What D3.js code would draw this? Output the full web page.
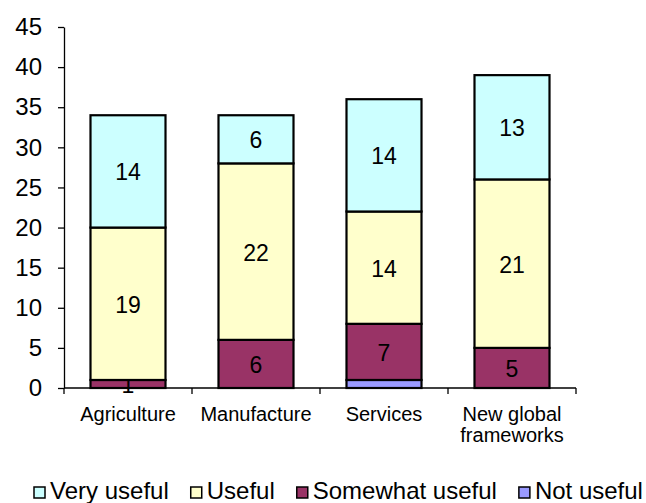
<!DOCTYPE html>
<html>
<head>
<meta charset="utf-8">
<script src="https://cdn.jsdelivr.net/npm/d3@7"></script>
<style>
  body { margin: 0; background: #fff; }
  text { font-family: "Liberation Sans", Arial, sans-serif; fill: #000; }
</style>
</head>
<body>
<div id="chart"></div>
<script>
// chart values
var categories = ["Agriculture", "Manufacture", "Services", "New global frameworks"];
var notUseful = [0, 0, 1, 0];
var somewhatUseful = [1, 6, 7, 5];
var useful = [19, 22, 14, 21];
var veryUseful = [14, 6, 14, 13];
var yTicks = [0, 5, 10, 15, 20, 25, 30, 35, 40, 45];

var seriesNames = ["Not useful", "Somewhat useful", "Useful", "Very useful"];
var seriesColors = ["#9999ff", "#993366", "#ffffcc", "#ccffff"];
var legendOrder = [3, 2, 1, 0];

var svgWidth = 646;
var svgHeight = 503;

// build rows for d3.stack
var rows = categories.map(function(c, i) {
  return {
    cat: c,
    "Not useful": notUseful[i],
    "Somewhat useful": somewhatUseful[i],
    "Useful": useful[i],
    "Very useful": veryUseful[i]
  };
});
var stacked = d3.stack().keys(seriesNames)(rows);

var svg = d3.select("#chart")
  .append("svg")
    .attr("width", svgWidth)
    .attr("height", svgHeight);

var x = d3.scaleBand()
  .domain(categories)
  .range([64, 576])
  .paddingInner(0.414)
  .paddingOuter(0.207);

var y = d3.scaleLinear()
  .domain([0, 45])
  .range([388, 27]);

// y axis
var yAxis = svg.append("g")
  .attr("transform", "translate(64,0)")
  .call(d3.axisLeft(y).tickValues(yTicks).tickSize(6).tickSizeOuter(0).tickPadding(16));
yAxis.select(".domain").attr("stroke", "#000").attr("stroke-width", 1.3);
yAxis.selectAll(".tick line").attr("stroke", "#000").attr("stroke-width", 1.3);
yAxis.selectAll(".tick text")
  .style("font-family", "'Liberation Sans', Arial, sans-serif")
  .style("font-size", "24px")
  .attr("fill", "#000");

// x axis: line plus ticks at category boundaries
var xg = svg.append("g");
xg.append("line")
  .attr("x1", 64).attr("x2", 576)
  .attr("y1", y(0)).attr("y2", y(0))
  .attr("stroke", "#000").attr("stroke-width", 1.3);
xg.selectAll("line.tk")
  .data(d3.range(categories.length + 1))
  .enter()
  .append("line")
  .attr("class", "tk")
  .attr("x1", function(d) { return 64 + d * x.step(); })
  .attr("x2", function(d) { return 64 + d * x.step(); })
  .attr("y1", y(0)).attr("y2", y(0) + 6)
  .attr("stroke", "#000").attr("stroke-width", 1.3);

// category labels (wrap the long one onto two lines)
categories.forEach(function(d) {
  var lines = d === "New global frameworks" ? ["New global", "frameworks"] : [d];
  lines.forEach(function(l, i) {
    xg.append("text")
      .attr("text-anchor", "middle")
      .style("font-size", "20px")
      .attr("x", x(d) + x.bandwidth() / 2)
      .attr("y", 421 + i * 21)
      .text(l);
  });
});

// bars
var layers = svg.selectAll("g.layer")
  .data(stacked)
  .enter()
  .append("g")
  .attr("class", "layer")
  .attr("fill", function(d, i) { return seriesColors[i]; });

layers.selectAll("rect")
  .data(function(d) { return d.filter(function(s) { return s[1] - s[0] > 0; }); })
  .enter()
  .append("rect")
  .attr("x", function(d) { return x(d.data.cat); })
  .attr("width", x.bandwidth())
  .attr("y", function(d) { return y(d[1]); })
  .attr("height", function(d) { return y(d[0]) - y(d[1]); })
  .attr("stroke", "#000")
  .attr("stroke-width", 2.2);

// value labels (not for "Not useful")
layers.filter(function(d) { return d.key !== "Not useful"; })
  .selectAll("text")
  .data(function(d) { return d.filter(function(s) { return s[1] - s[0] > 0; }); })
  .enter()
  .append("text")
  .attr("text-anchor", "middle")
  .attr("dominant-baseline", "central")
  .style("font-size", "23px")
  .attr("fill", "#000")
  .attr("x", function(d) { return x(d.data.cat) + x.bandwidth() / 2; })
  .attr("y", function(d) { return y((d[0] + d[1]) / 2) + 1; })
  .text(function(d) { return d[1] - d[0]; });

// legend
var legend = svg.append("g");
var lx = 34;
legendOrder.forEach(function(si) {
  legend.append("rect")
    .attr("x", lx).attr("y", 487)
    .attr("width", 11).attr("height", 11)
    .attr("fill", seriesColors[si])
    .attr("stroke", "#000").attr("stroke-width", 1.5);
  var t = legend.append("text")
    .attr("x", lx + 16).attr("y", 499)
    .style("font-size", "24px")
    .text(seriesNames[si]);
  lx += 16 + t.node().getComputedTextLength() + 22;
});
</script>
</body>
</html>
